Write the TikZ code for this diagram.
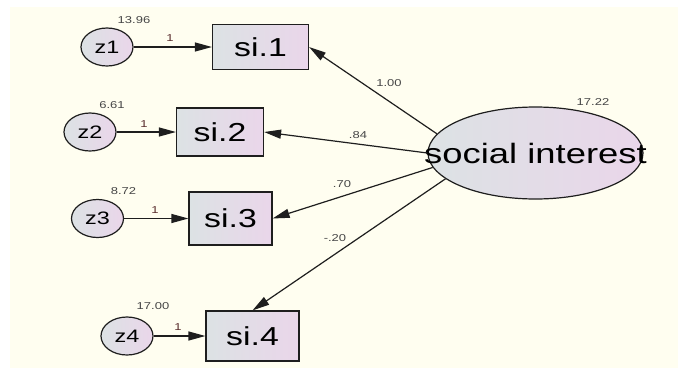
\documentclass[tikz,border=0pt]{standalone}
\usepackage{fontspec}
\setmainfont{Liberation Sans}
\usepackage{graphicx}
\usetikzlibrary{arrows.meta,shapes.geometric}
\definecolor{cream}{RGB}{255,254,240}
\definecolor{nleft}{RGB}{220,226,228}
\definecolor{nright}{RGB}{234,214,234}
\definecolor{ink}{RGB}{30,30,30}
\definecolor{numc}{RGB}{70,70,70}
\definecolor{onec}{RGB}{90,45,45}
\newcommand{\sx}[1]{\scalebox{1.3}[1]{#1}}
\tikzset{
  shapefill/.style={draw=ink, line width=1.2pt, left color=nleft, right color=nright},
  obs/.style={shapefill, rectangle, inner sep=0pt, font=\fontsize{26}{30}\selectfont},
  err/.style={shapefill, ellipse, minimum width=52pt, minimum height=38pt, inner sep=0pt, font=\fontsize{18}{20}\selectfont},
  lat/.style={shapefill, ellipse, minimum width=215pt, minimum height=92pt, inner sep=0pt},
  latfont/.style={font=\fontsize{28}{30}\selectfont, inner sep=0pt},
  num/.style={font=\fontsize{10}{12}\selectfont, text=numc, inner sep=0pt},
  one/.style={font=\fontsize{10}{12}\selectfont, text=onec, inner sep=0pt},
  arr/.style={draw=ink, line width=1.2pt, -{Triangle[length=17pt,width=9pt]}},
}
\begin{document}
\begin{tikzpicture}[x=1pt,y=-1pt]
\useasboundingbox (0,0) rectangle (678,375);
\fill[white] (0,0) rectangle (678,375);
\fill[cream] (10,7) rectangle (678,368);

% observed variables
\node[obs, minimum width=96pt, minimum height=45pt] (si1) at (260.5,47) {\sx{si.1}};
\node[obs, minimum width=87pt, minimum height=48pt] (si2) at (220,132) {\sx{si.2}};
\node[obs, minimum width=83pt, minimum height=53pt] (si3) at (230.5,218.5) {\sx{si.3}};
\node[obs, minimum width=93pt, minimum height=50pt] (si4) at (252.5,336) {\sx{si.4}};

% error terms
\node[err] (z1) at (107,47) {\sx{z1}};
\node[err] (z2) at (90,132) {\sx{z2}};
\node[err] (z3) at (97.5,218.5) {\sx{z3}};
\node[err] (z4) at (127,336) {\sx{z4}};

% latent
\node[lat, label={[latfont]center:\sx{social interest}}] (SI) at (535.5,153) {};

% arrows
\draw[arr] (z1) -- (si1);
\draw[arr] (z2) -- (si2);
\draw[arr] (z3) -- (si3);
\draw[arr] (z4) -- (si4);
\draw[arr] (SI.169) -- (si1.east);
\draw[arr] (SI.180) -- (si2.east);
\draw[arr] (SI.188) -- (si3.east);
\draw[arr] (SI.196) -- (si4.north);

% labels
\node[one] (o1) at (170,38) {\sx{1}};
\node[one] (o2) at (144,124) {\sx{1}};
\node[one] (o3) at (155,210) {\sx{1}};
\node[one] (o4) at (178,327) {\sx{1}};
\node[num] (v1) at (134,20) {\sx{13.96}};
\node[num] (v2) at (112,105) {\sx{6.61}};
\node[num] (v3) at (123.5,191) {\sx{8.72}};
\node[num] (v4) at (153,306) {\sx{17.00}};
\node[num] (v5) at (593,102.5) {\sx{17.22}};
\node[num] (w1) at (389,83) {\sx{1.00}};
\node[num] (w2) at (358,135) {\sx{.84}};
\node[num] (w3) at (342,184) {\sx{.70}};
\node[num] (w4) at (335,238) {\sx{-.20}};
\end{tikzpicture}
\end{document}
